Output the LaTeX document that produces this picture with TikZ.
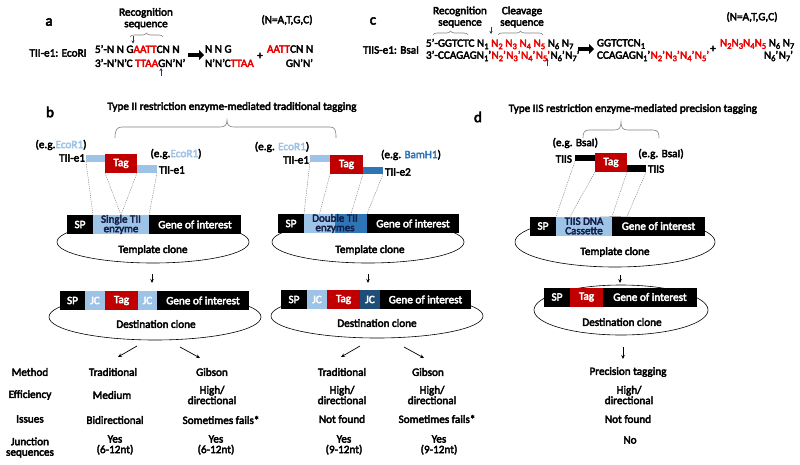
\documentclass[tikz,border=0pt]{standalone}
\usepackage{fontspec}
\setmainfont{Carlito}[BoldFont=Carlito, BoldFeatures={FakeBold=3.5}]
\usetikzlibrary{arrows.meta,decorations.pathreplacing,shapes.geometric,calc}
\definecolor{seqred}{RGB}{235,0,0}
\definecolor{tagred}{RGB}{192,0,0}
\definecolor{lblue}{RGB}{157,195,230}
\definecolor{mblue}{RGB}{46,117,182}
\definecolor{dblue}{RGB}{31,78,121}
\definecolor{navy}{RGB}{31,56,100}
\definecolor{bgray}{RGB}{128,128,128}
\definecolor{txtdark}{RGB}{20,30,70}
\newcommand{\ssub}[1]{\raisebox{-0.45ex}{\fontsize{8.5}{8.5}\selectfont #1}}
\newcommand{\ps}{'\kern0.4pt}
\newcommand{\gsp}{\hspace{2.6pt}}
\begin{document}
\begin{tikzpicture}[x=1pt,y=-1pt,
  every node/.style={font=\bfseries\fontsize{11.2}{10.5}\selectfont, inner sep=0pt, outer sep=0pt},
  plab/.style={font=\bfseries\fontsize{15}{15}\selectfont},
  two/.style={align=center, font=\bfseries\fontsize{11.2}{11.5}\selectfont},
  inbox/.style={align=center, font=\bfseries\fontsize{11}{9.5}\selectfont},
  seg/.style={anchor=west, minimum height=19pt, text=white},
  clone/.style={draw, ellipse, line width=0.6pt},
  arr/.style={-{Stealth[length=4pt,width=3.5pt]}, line width=0.7pt},
  barr/.style={navy, -{Stealth[length=3pt,width=3pt]}, line width=0.6pt},
  bigarr/.style={line width=3.5pt, -{Triangle[length=5pt,width=10pt]}},
  dots/.style={bgray, dash pattern=on 1.2pt off 1pt, line width=0.45pt},
  brc/.style={bgray, line width=0.6pt},
  sbrace/.style={brc, decorate, decoration={brace, amplitude=4pt}}
]
\useasboundingbox (0,0) rectangle (800,464);

% ---------------- panel a
\node[plab] (la) at (49,22) {a};
\node[two] (arec) at (146,18.5) {Recognition\\sequence};
\draw[sbrace] (130,37) -- (163,37);
\node (aenz) at (58,53) {TII-e1: EcoRI};
\node[anchor=west] (a5) at (95,49) {5'-N N G\textcolor{seqred}{AATT}CN N};
\node[anchor=west] (a3) at (95,63) {3'-N'N'C \textcolor{seqred}{TTAA}GN'N'};
\draw[barr] (133,36) -- (133,43.5);
\draw[barr] (161,76) -- (161,68);
\draw[bigarr] (188,55) -- (204,55);
\node[anchor=west] (a5r) at (205,49) {N N G};
\node[anchor=west] (a3r) at (205,63) {N'N'C\textcolor{seqred}{TTAA}};
\node (aplus) at (260,56) {+};
\node[anchor=west] (a5f) at (267,49) {\textcolor{seqred}{AATT}CN N};
\node[anchor=east] (a3f) at (313,63) {GN'N'};
\node (aN) at (287,20) {(N=A,T,G,C)};

% ---------------- panel c
\node[plab] (lc) at (373,21) {c};
\node[two] (crec) at (460,17) {Recognition\\sequence};
\node[two] (ccle) at (522,17) {Cleavage\\sequence};
\draw[sbrace] (433,35) -- (468,35);
\draw[sbrace] (498,35) -- (543,35);
\draw[barr] (491,27) -- (491,34);
\node (cenz) at (391,50) {TIIS-e1: BsaI};
\node[anchor=west] (c5) at (426,44) {5'-GGTCTC\gsp N\ssub{1}\gsp\textcolor{seqred}{N\ssub{2}\gsp N\ssub{3}\gsp N\ssub{4}\gsp N\ssub{5}}\gsp N\ssub{6}\gsp N\ssub{7}};
\node[anchor=west] (c3) at (426,56) {3'-CCAGAGN\ssub{1}\ps\textcolor{seqred}{N\ssub{2}\ps N\ssub{3}\ps N\ssub{4}\ps N\ssub{5}\ps}N\ssub{6}\ps N\ssub{7}'};
\draw[barr] (547,66) -- (547,58);
\draw[bigarr] (578,49) -- (594,49);
\node[anchor=west] (c5r) at (597,44) {GGTCTCN\ssub{1}};
\node[anchor=west] (c3r) at (597,56) {CCAGAGN\ssub{1}\ps\textcolor{seqred}{N\ssub{2}\ps N\ssub{3}\ps N\ssub{4}\ps N\ssub{5}'}};
\node (cplus) at (713,49) {+};
\node[anchor=west] (c5f) at (720,44) {\textcolor{seqred}{N\ssub{2}N\ssub{3}N\ssub{4}N\ssub{5}} N\ssub{6} N\ssub{7}};
\node[anchor=east] (c3f) at (793,56) {N\ssub{6}\ps N\ssub{7}'};
\node (cN) at (752,17) {(N=A,T,G,C)};

% ---------------- panel b
\node[plab] (lb) at (50,112) {b};
\node (btitle) at (232,107) {Type II restriction enzyme-mediated traditional tagging};
\draw[brc] (115,138) .. controls (115,130) and (117,127) .. (122,127) -- (220,127)
  .. controls (225,127) and (227,125) .. (227,120) .. controls (227,125) and (229,127) .. (234,127)
  -- (330,127) .. controls (335,127) and (336,130) .. (336,138);

% b1 construct
\node[seg, fill=lblue, minimum width=19pt, minimum height=7pt] (b1l) at (86,158.5) {};
\node[seg, fill=tagred, minimum width=32pt] (b1tag) at (105,163.5) {Tag};
\node[seg, fill=lblue, minimum width=20pt, minimum height=8pt] (b1r) at (137,169) {};
\node (b1eg1) at (61,145) {(e.g.\textcolor{lblue}{EcoR1})};
\node[anchor=east] (b1e1) at (85,158) {TII-e1};
\node (b1eg2) at (176,154) {(e.g.\textcolor{lblue}{EcoR1})};
\node[anchor=west] (b1e2) at (159,170) {TII-e1};

\node[clone, minimum width=192pt, minimum height=42pt] (b1tpl) at (153,242) {};
\node[seg, fill=black, minimum width=26pt] (b1sp) at (67,224.5) {SP};
\node[seg, inbox, fill=lblue, minimum width=56pt, text=txtdark] (b1se) at (b1sp.east) {Single TII\\enzyme};
\node[seg, fill=black, minimum width=92pt] (b1go) at (b1se.east) {Gene of interest};
\node (b1tl) at (153,250) {Template clone};
\draw[dots] (b1l.south west) -- (b1sp.north east);
\draw[dots] (b1tag.south west) -- (b1se.north);
\draw[dots] (b1tag.south east) -- (b1se.north);
\draw[dots] (b1r.south east) -- (b1go.north west);
\draw[arr] ($(b1tpl.south)+(-1,11)$) -- ++(0,9);

\node[clone, minimum width=212pt, minimum height=46pt] (b1dst) at (155,317) {};
\node[seg, fill=black, minimum width=25pt] (b1dsp) at (60,300.5) {SP};
\node[seg, fill=lblue, minimum width=20pt] (b1dj1) at (b1dsp.east) {JC};
\node[seg, fill=tagred, minimum width=33pt] (b1dtag) at (b1dj1.east) {Tag};
\node[seg, fill=lblue, minimum width=19pt] (b1dj2) at (b1dtag.east) {JC};
\node[seg, fill=black, minimum width=92pt] (b1dgo) at (b1dj2.east) {Gene of interest};
\node (b1dl) at (156,324) {Destination clone};
\draw[arr] ($(b1dst.south)+(-18,6)$) -- ++(-19,11);
\draw[arr] ($(b1dst.south)+(25,7)$) -- ++(20,11);

% b2 construct
\node[seg, fill=lblue, minimum width=20pt, minimum height=7pt] (b2l) at (310,158.5) {};
\node[seg, fill=tagred, minimum width=33pt] (b2tag) at (330,164.5) {Tag};
\node[seg, fill=mblue, minimum width=20pt, minimum height=7pt] (b2r) at (363,170.5) {};
\node (b2eg1) at (282,147) {(e.g. \textcolor{lblue}{EcoR1})};
\node[anchor=east] (b2e1) at (309,160) {TII-e1};
\node (b2eg2) at (411,155) {(e.g. \textcolor{mblue}{BamH1})};
\node[anchor=west] (b2e2) at (385,172) {TII-e2};

\node[clone, minimum width=192pt, minimum height=42pt] (b2tpl) at (368,242) {};
\node[seg, fill=black, minimum width=26pt] (b2sp) at (278,223.5) {SP};
\node[seg, fill=lblue, minimum width=31pt] (b2lb) at (b2sp.east) {};
\node[seg, fill=mblue, minimum width=32pt] (b2db) at (b2lb.east) {};
\node[seg, fill=black, minimum width=92pt] (b2go) at (b2db.east) {Gene of interest};
\node[inbox, text=txtdark] (b2dt) at (b2lb.east) {Double TII\\enzymes};
\node (b2tl) at (370,250) {Template clone};
\draw[dots] (b2l.south west) -- (b2sp.north east);
\draw[dots] (b2tag.south west) -- (b2lb.north);
\draw[dots] (b2tag.south east) -- (b2db.north);
\draw[dots] (b2r.south east) -- (b2go.north west);
\draw[arr] ($(b2tpl.south)+(0,11)$) -- ++(0,9);

\node[clone, minimum width=212pt, minimum height=44pt] (b2dst) at (377,316) {};
\node[seg, fill=black, minimum width=26pt] (b2dsp) at (281,299.5) {SP};
\node[seg, fill=lblue, minimum width=20pt] (b2dj1) at (b2dsp.east) {JC};
\node[seg, fill=tagred, minimum width=33pt] (b2dtag) at (b2dj1.east) {Tag};
\node[seg, fill=dblue, minimum width=20pt] (b2dj2) at (b2dtag.east) {JC};
\node[seg, fill=black, minimum width=91pt] (b2dgo) at (b2dj2.east) {Gene of interest};
\node (b2dl) at (377,323) {Destination clone};
\draw[arr] ($(b2dst.south)+(-17,8)$) -- ++(-19,11);
\draw[arr] ($(b2dst.south)+(27,9)$) -- ++(20,11);

% ---------------- panel d
\node[plab] (ld) at (478,117) {d};
\node[anchor=east] (dtitle) at (757,109) {Type IIS restriction enzyme-mediated precision tagging};
\draw[brc] (583,138) .. controls (583,133) and (584,130) .. (589,130) -- (614,130)
  .. controls (619,130) and (621,128) .. (621,122) .. controls (621,128) and (623,130) .. (628,130)
  -- (653,130) .. controls (658,130) and (659,133) .. (659,138);

\node[seg, fill=black, minimum width=20pt, minimum height=6pt] (dl) at (575,158) {};
\node[seg, fill=tagred, minimum width=32pt] (dtag) at (595,162.5) {Tag};
\node[seg, fill=black, minimum width=19pt, minimum height=7pt] (dr) at (627,168.5) {};
\node[anchor=east] (deg1) at (598,143) {(e.g. BsaI)};
\node[anchor=east] (de1) at (572,159) {TIIS};
\node (deg2) at (661,154) {(e.g. BsaI)};
\node[anchor=west] (de2) at (648,169) {TIIS};

\node[clone, minimum width=200pt, minimum height=50pt] (dtpl) at (615,242) {};
\node[seg, fill=black, minimum width=26pt] (dsp) at (530,226) {SP};
\node[seg, inbox, fill=lblue, minimum width=56pt, text=txtdark] (dcas) at (dsp.east) {TIIS DNA\\Cassette};
\node[seg, fill=black, minimum width=93pt] (dgo) at (dcas.east) {Gene of interest};
\node (dtl) at (615,252) {Template clone};
\draw[dots] (dl.south west) -- (dsp.north east);
\draw[dots] (dtag.south west) -- ($(dcas.north west)+(14,0)$);
\draw[dots] (dtag.south east) -- (dcas.north east);
\draw[dots] (dr.south east) -- ($(dgo.north west)+(15,0)$);
\draw[arr] ($(dtpl.south)+(5,8)$) -- ++(0,8);

\node[clone, minimum width=174pt, minimum height=50pt] (ddst) at (621,310) {};
\node[seg, fill=black, minimum width=26pt] (ddsp) at (544,297) {SP};
\node[seg, fill=tagred, minimum width=33pt] (ddtag) at (ddsp.east) {Tag};
\node[seg, fill=black, minimum width=94pt] (ddgo) at (ddtag.east) {Gene of interest};
\node (ddl) at (622,322) {Destination clone};
\draw[arr] ($(ddst.south)+(2,12)$) -- ++(0,12);

% ---------------- table
\node (tm) at (30,372) {Method};
\node (te) at (30,395) {Efficiency};
\node (ti) at (30,419) {Issues};
\node[align=center] (tj) at (30,447.5) {Junction\\sequences};

\node (c1m) at (113,372) {Traditional};
\node (c1e) at (112,395) {Medium};
\node (c1i) at (115,420) {Bidirectional};
\node[align=center] (c1j) at (115,445) {Yes\\(6-12nt)};

\node (c2m) at (212,372) {Gibson};
\node[align=center] (c2e) at (212,395) {High/\\directional};
\node (c2i) at (221,420) {Sometimes fails*};
\node[align=center] (c2j) at (216,445) {Yes\\(6-12nt)};

\node (c3m) at (342,372) {Traditional};
\node[align=center] (c3e) at (342,395) {High/\\directional};
\node (c3i) at (342,419) {Not found};
\node[align=center] (c3j) at (344,445) {Yes\\(9-12nt)};

\node (c4m) at (428,372) {Gibson};
\node[align=center] (c4e) at (432,395) {High/\\directional};
\node (c4i) at (437,419) {Sometimes fails*};
\node[align=center] (c4j) at (439,445) {Yes\\(9-12nt)};

\node (c5m) at (628,372) {Precision tagging};
\node[align=center] (c5e) at (629,395) {High/\\directional};
\node (c5i) at (628,419) {Not found};
\node (c5j) at (630,440) {No};
\end{tikzpicture}
\end{document}
